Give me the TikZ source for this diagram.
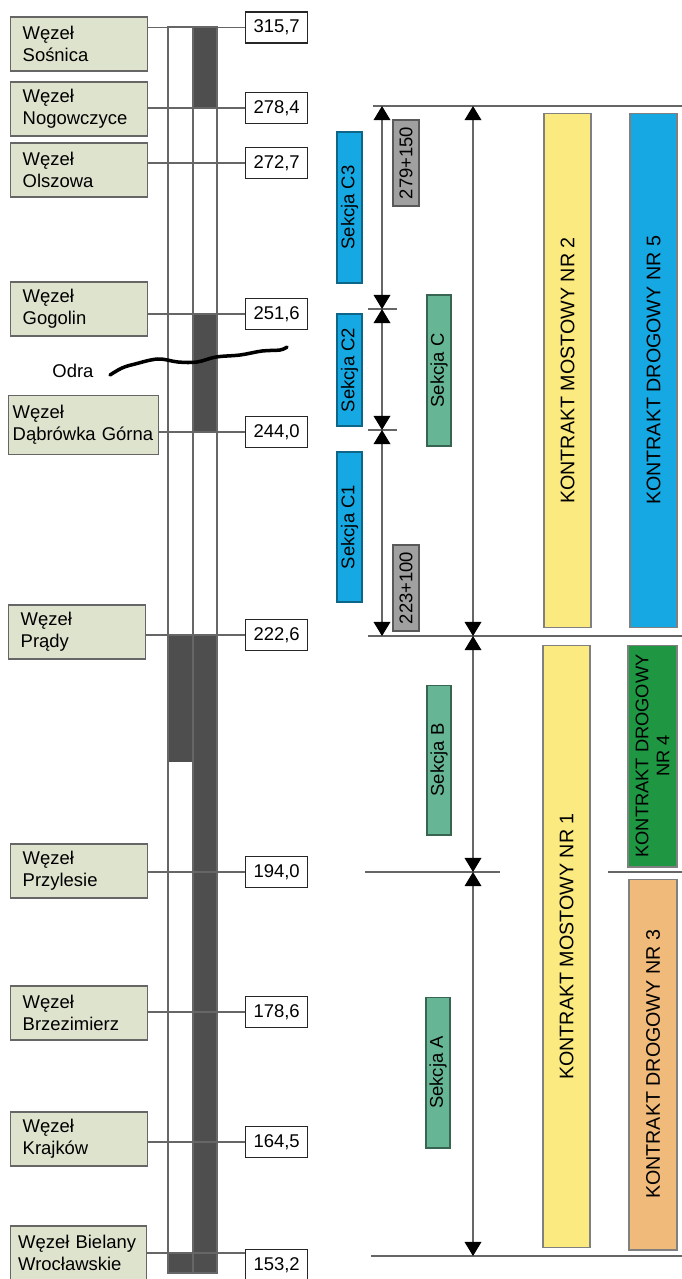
\documentclass[tikz,border=0pt]{standalone}
\usepackage{fontspec}
\setmainfont{Liberation Sans}
\usetikzlibrary{positioning,arrows.meta}

\definecolor{wezelfill}{RGB}{222,227,205}
\definecolor{sekcjablue}{RGB}{22,168,226}
\definecolor{sekcjagreen}{RGB}{102,182,150}
\definecolor{kmgray}{RGB}{160,160,160}
\definecolor{mostyellow}{RGB}{250,234,128}
\definecolor{drogagreen}{RGB}{30,150,66}
\definecolor{drogaorange}{RGB}{240,186,122}
\definecolor{roadgray}{RGB}{78,78,78}

\begin{document}
\begin{tikzpicture}[
    x=0.02cm, y=-0.02cm,
    font=\fontsize{10.5}{12.6}\selectfont,
    wezel/.style={draw=black!60, line width=0.8pt, fill=wezelfill, align=left, text width=2.26cm, inner xsep=0.24cm, minimum height=1.08cm, anchor=west},
    km/.style={draw=black!85, line width=0.7pt, fill=white, minimum width=1.24cm, minimum height=0.62cm, inner sep=0pt, anchor=west},
    bar/.style={rotate=90, line width=0.6pt, inner sep=0pt, align=center},
    sekcja/.style={bar, minimum height=0.5cm},
    kontrakt/.style={bar, minimum height=0.94cm, draw=black!50, font=\fontsize{11.2}{12.8}\selectfont},
    thin/.style={draw=black!60, line width=0.7pt},
    arr/.style={>={Triangle[length=8pt,width=9.5pt,color=black]}, <->, draw=black!60, line width=0.7pt}
  ]
    \useasboundingbox (0,0) rectangle (682,1279);

    % road column
    \fill[roadgray] (193,27) rectangle (217,108);
    \fill[roadgray] (193,313) rectangle (217,432);
    \fill[roadgray] (193,635) rectangle (217,1273);
    \fill[roadgray] (168,635) rectangle (193,762);
    \fill[roadgray] (168,1254) rectangle (193,1273);
    \draw[thin] (168,27) rectangle (217,1273);
    \draw[thin] (193,27) -- (193,1273);

    % junctions
    \node[wezel] (w1) at (10,44) {Węzeł\\Sośnica};
    \node[wezel] (w2) at (10,109) {Węzeł\\Nogowczyce};
    \node[wezel] (w3) at (10,170) {Węzeł\\Olszowa};
    \node[wezel] (w4) at (10,309) {Węzeł\\Gogolin};
    \node[wezel, text width=2.84cm, inner xsep=0.08cm, minimum height=1.18cm] (w5) at (8,425) {Węzeł\\Dąbrówka Górna};
    \node[wezel] (w6) at (8,632) {Węzeł\\Prądy};
    \node[wezel] (w7) at (10,871) {Węzeł\\Przylesie};
    \node[wezel] (w8) at (10,1013) {Węzeł\\Brzezimierz};
    \node[wezel] (w9) at (10,1139) {Węzeł\\Krajków};
    \node[wezel, text width=2.42cm, inner xsep=0.15cm] (w10) at (10,1253) {Węzeł Bielany\\Wrocławskie};

    % kilometres
    \node[km] (k1) at (245,27.5) {315,7};
    \node[km] (k2) at (245,108) {278,4};
    \node[km] (k3) at (245,163) {272,7};
    \node[km] (k4) at (245,314) {251,6};
    \node[km] (k5) at (245,432) {244,0};
    \node[km] (k6) at (245,635) {222,6};
    \node[km] (k7) at (245,872) {194,0};
    \node[km] (k8) at (245,1012) {178,6};
    \node[km] (k9) at (245,1142) {164,5};
    \node[km] (k10) at (245,1265) {153,2};
    \foreach \i in {1,...,9}
      \draw[thin] (w\i.east |- k\i.west) -- (k\i.west);
    \draw[thin] (w10.east) -- (w10.east -| k10.west);

    % river
    \draw[line width=2pt, line cap=round] plot[smooth, tension=0.6] coordinates {(110,375) (122,368) (135,364) (158,359) (178,362) (197,362) (216,357) (240,355) (262,351) (280,350) (287,347)};
    \node (odra) at (73,371) {Odra};

    % section limits
    \draw[thin] (373,106) -- (682,106);
    \draw[thin] (368,309) -- (397,309);
    \draw[thin] (368,430) -- (397,430);
    \draw[thin] (368,636) -- (682,636);
    \draw[thin] (365,872) -- (500,872);
    \draw[thin] (608,872) -- (682,872);
    \draw[thin] (371,1256) -- (682,1256);

    \coordinate (a0) at (382,106);
    \coordinate (a1) at (382,309);
    \coordinate (a2) at (382,430);
    \coordinate (a3) at (382,636);
    \coordinate (b0) at (473,106);
    \coordinate (b1) at (473,636);
    \coordinate (b2) at (473,872);
    \coordinate (b3) at (473,1256);
    \draw[arr] (a0) -- (a1);
    \draw[arr] (a1) -- (a2);
    \draw[arr] (a2) -- (a3);
    \draw[arr] (b0) -- (b1);
    \draw[arr] (b1) -- (b2);
    \draw[arr] (b2) -- (b3);

    % sections
    \node[sekcja, fill=sekcjablue, draw=sekcjablue!60!black, minimum width=3.02cm] (c3) at (349.5,207.5) {Sekcja C3};
    \node[sekcja, fill=sekcjablue, draw=sekcjablue!60!black, minimum width=2.24cm] (c2) at (349.5,370) {Sekcja C2};
    \node[sekcja, fill=sekcjablue, draw=sekcjablue!60!black, minimum width=3.0cm] (c1) at (349.5,527) {Sekcja C1};
    \node[sekcja, fill=kmgray, draw=black!65, minimum width=1.72cm, minimum height=0.52cm] (g1) at (406,163) {279+150};
    \node[sekcja, fill=kmgray, draw=black!65, minimum width=1.72cm, minimum height=0.52cm] (g2) at (406,588) {223+100};
    \node[sekcja, fill=sekcjagreen, draw=sekcjagreen!55!black, minimum width=3.02cm, minimum height=0.48cm] (sc) at (439,370.5) {Sekcja C};
    \node[sekcja, fill=sekcjagreen, draw=sekcjagreen!55!black, minimum width=3.0cm, minimum height=0.48cm] (sb) at (439,760) {Sekcja B};
    \node[sekcja, fill=sekcjagreen, draw=sekcjagreen!55!black, minimum width=3.02cm, minimum height=0.48cm] (sa) at (438,1072.5) {Sekcja A};

    % contracts
    \node[kontrakt, fill=mostyellow, minimum width=10.3cm] (m2) at (567.5,370.5) {KONTRAKT MOSTOWY NR 2};
    \node[kontrakt, fill=sekcjablue, minimum width=10.3cm] (d5) at (653.5,370.5) {KONTRAKT DROGOWY NR 5};
    \node[kontrakt, fill=mostyellow, minimum width=12.06cm] (m1) at (566.5,946.5) {KONTRAKT MOSTOWY NR 1};
    \node[kontrakt, fill=drogagreen, minimum width=4.44cm, minimum height=0.98cm, font=\fontsize{10.4}{12}\selectfont] (d4) at (652.5,756) {KONTRAKT DROGOWY\\NR 4};
    \node[kontrakt, fill=drogaorange, minimum width=7.42cm, minimum height=0.96cm] (d3) at (653,1064.5) {KONTRAKT DROGOWY NR 3};
  \end{tikzpicture}
\end{document}
